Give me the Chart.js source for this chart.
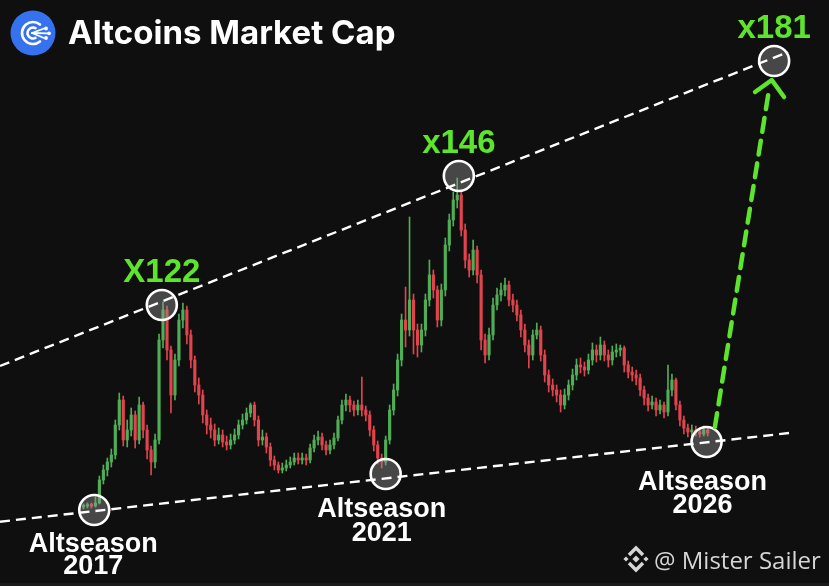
<!DOCTYPE html>
<html>
<head>
<meta charset="utf-8">
<script src="https://cdn.jsdelivr.net/npm/chart.js@4.4.1/dist/chart.umd.min.js"></script>
<style>
html, body { margin: 0; padding: 0; background: #0f0f0f; }
#wrap { width: 829px; height: 586px; position: relative; }
</style>
</head>
<body>
<div id="wrap"><canvas id="chart"></canvas></div>
<script>
// candles (index level, one candle per step)
const opens = [
  79, 80, 81, 80, 83,106,116,124,131,161,
 186,146,156,171,146,181,156,136,124,146,
 246,276,236,191,226,266,276,251,226,201,
 191,171,161,156,146,151,144,141,146,151,
 161,166,173,181,166,146,149,139,126,121,
 116,118,121,124,128,126,128,126,138,146,
 149,141,136,141,148,166,181,186,181,176,
 181,176,171,156,141,128,124,146,176,196,
 226,266,256,286,256,241,256,286,311,296,
 266,296,341,366,386,391,356,326,316,336,
 311,246,231,251,281,291,296,301,286,281,
 271,256,241,231,251,256,231,211,201,196,
 191,181,191,201,211,221,219,216,226,236,
 231,241,231,226,234,236,238,221,214,211,
 208,196,188,181,184,176,181,174,196,206,
 181,166,158,154,156,154,152,156
];
const closes = [
  80, 81, 80, 83,106,116,124,131,161,186,
 146,156,171,146,181,156,136,124,146,246,
 276,236,191,226,266,276,251,226,201,191,
 171,161,156,146,151,144,141,146,151,161,
 166,173,181,166,146,149,139,126,121,116,
 118,121,124,128,126,128,126,138,146,149,
 141,136,141,148,166,181,186,181,176,181,
 176,171,156,141,128,124,146,176,196,226,
 266,256,286,256,241,256,286,311,296,266,
 296,341,366,386,391,356,326,316,336,311,
 246,231,251,281,291,296,301,286,281,271,
 256,241,231,251,256,231,211,201,196,191,
 181,191,201,211,221,219,216,226,236,231,
 241,231,226,234,236,238,221,214,211,208,
 196,188,181,184,176,181,174,196,206,181,
 166,158,154,156,154,152,156,153
];
const highs = [
  82, 83, 83, 89,110,121,128,137,166,193,
 190,166,178,175,189,184,161,140,152,252,
 284,280,240,232,272,283,280,256,230,208,
 196,176,168,162,158,156,150,152,157,166,
 172,178,183,184,170,156,153,143,130,124,
 123,126,129,133,133,133,132,142,151,155,
 153,145,146,153,170,186,192,190,185,186,
 209,180,175,160,145,132,150,181,202,232,
 272,299,369,292,262,262,292,326,316,300,
 302,348,372,394,408,396,362,332,346,340,
 316,252,258,288,298,303,308,305,292,286,
 276,262,246,256,263,260,236,216,207,201,
 196,197,206,217,227,228,224,232,243,241,
 249,245,236,240,242,241,240,225,219,216,
 212,200,192,190,188,186,184,221,212,208,
 185,170,162,161,160,158,160,159
];
const lows = [
  77, 78, 78, 79, 82,102,110,119,127,156,
 140,139,150,138,142,148,127,111,118,142,
 238,226,173,186,220,258,242,218,194,182,
 163,152,148,140,142,139,136,137,142,147,
 157,162,169,160,140,141,133,120,116,113,
 113,115,118,121,122,122,121,123,134,141,
 136,131,132,137,145,162,175,174,170,171,
 170,165,150,135,122,118,121,142,171,190,
 220,239,250,232,229,234,250,280,288,259,
 260,290,335,360,378,350,318,309,311,303,
 236,223,226,246,276,285,290,280,274,265,
 249,234,218,226,247,225,204,194,190,184,
 174,177,186,196,206,213,210,212,221,224,
 226,225,219,221,229,230,214,208,205,201,
 190,181,175,177,170,172,168,170,190,176,
 160,152,149,150,150,149,150,150
];

// support line touches (altseason lows)
const seasonNames = ['Altseason', 'Altseason', 'Altseason'];
const seasonYears = ['2017', '2021', '2026'];
const seasonX = [2.7, 76, 156.7];
const seasonY = [76, 112, 144];

// resistance line touches (peaks)
const peakTags = ['X122', 'x146', 'x181'];
const peakX = [19.7, 94.4, 173.7];
const peakY = [281, 410, 525];

// trend lines
const resistX = [-21, 177.2];
const resistY = [220, 534];
const supportX = [-21, 178.2];
const supportY = [64.3, 153.3];

// projection arrow
const arrowX = [158.8, 172.4];
const arrowY = [159, 496];
const arrowHeadX = [168.9, 173.1, 176.2];
const arrowHeadY = [494, 506, 489];

const title = 'Altcoins Market Cap';
const credit = '@ Mister Sailer';

// styles
const upColor = '#4fae55';
const downColor = '#e2434c';
const lime = '#5de42c';
const seasonDx = [-1, -4, -4];
const seasonDy1 = [32, 33, 38];
const seasonDy2 = [54, 57, 61];
const peakDy = -35;

const idx = closes.map((c, i) => i);
const candleColors = closes.map((c, i) => c >= opens[i] ? upColor : downColor);
const pts = (xs, ys) => xs.map((x, i) => ({ x: x, y: ys[i] }));

const bgPlugin = {
  id: 'bg',
  beforeDraw(chart) {
    const ctx = chart.ctx;
    ctx.save();
    ctx.fillStyle = '#0f0f0f';
    ctx.fillRect(0, 0, chart.width, chart.height);
    ctx.fillStyle = '#1b1b1b';
    ctx.fillRect(0, chart.height - 3, chart.width, 3);
    ctx.restore();
  }
};

function capText(ctx, text, x, cy, size) {
  ctx.fillText(text, x, cy + size * 0.36);
}

const textPlugin = {
  id: 'texts',
  afterDraw(chart) {
    const ctx = chart.ctx;
    const sx = chart.scales.x, sy = chart.scales.y;
    ctx.save();

    // header icon
    ctx.fillStyle = '#3672ef';
    ctx.beginPath();
    ctx.arc(33, 33, 22.5, 0, Math.PI * 2);
    ctx.fill();
    ctx.strokeStyle = '#ffffff';
    ctx.lineCap = 'round';
    ctx.lineWidth = 2.6;
    ctx.beginPath();
    ctx.arc(33, 33, 11, Math.PI * 0.28, Math.PI * 1.72);
    ctx.stroke();
    ctx.beginPath();
    ctx.arc(33, 33, 5.5, Math.PI * 0.35, Math.PI * 1.65);
    ctx.stroke();
    ctx.lineWidth = 1.8;
    [[44, 28.5], [47, 33.3], [44, 38]].forEach(p => {
      ctx.beginPath();
      ctx.moveTo(32, 33);
      ctx.lineTo(p[0], p[1]);
      ctx.stroke();
    });
    ctx.fillStyle = '#ffffff';
    [[46, 28.5], [49, 33.3], [46, 38]].forEach(p => {
      ctx.beginPath();
      ctx.arc(p[0], p[1], 1.9, 0, Math.PI * 2);
      ctx.fill();
    });

    // title
    ctx.fillStyle = '#ffffff';
    ctx.textAlign = 'left';
    ctx.textBaseline = 'alphabetic';
    ctx.font = '700 33px Inter';
    ctx.fillText(title, 68, 44);

    // peak multipliers
    ctx.fillStyle = lime;
    ctx.textAlign = 'center';
    ctx.font = 'bold 33px "Liberation Sans"';
    peakTags.forEach((t, i) => {
      capText(ctx, t, sx.getPixelForValue(peakX[i]), sy.getPixelForValue(peakY[i]) + peakDy, 33);
    });

    // altseason labels
    ctx.fillStyle = '#ffffff';
    ctx.font = 'bold 27px "Liberation Sans"';
    seasonNames.forEach((t, i) => {
      const x = sx.getPixelForValue(seasonX[i]) + seasonDx[i];
      const y = sy.getPixelForValue(seasonY[i]);
      capText(ctx, t, x, y + seasonDy1[i], 27);
      capText(ctx, seasonYears[i], x, y + seasonDy2[i], 27);
    });

    // credit with logo
    ctx.fillStyle = '#d6d6d6';
    ctx.strokeStyle = '#d6d6d6';
    const lx = 636, ly = 559;
    const diamond = (cx, cy, r) => {
      ctx.beginPath();
      ctx.moveTo(cx, cy - r); ctx.lineTo(cx + r, cy);
      ctx.lineTo(cx, cy + r); ctx.lineTo(cx - r, cy);
      ctx.closePath(); ctx.fill();
    };
    diamond(lx, ly, 3.6);
    diamond(lx - 10, ly, 2.6);
    diamond(lx + 10, ly, 2.6);
    ctx.lineWidth = 3.4;
    ctx.lineCap = 'butt';
    ctx.lineJoin = 'miter';
    ctx.beginPath();
    ctx.moveTo(lx - 7, ly - 4); ctx.lineTo(lx, ly - 11); ctx.lineTo(lx + 7, ly - 4);
    ctx.stroke();
    ctx.beginPath();
    ctx.moveTo(lx - 7, ly + 4); ctx.lineTo(lx, ly + 11); ctx.lineTo(lx + 7, ly + 4);
    ctx.stroke();
    ctx.textAlign = 'left';
    ctx.font = '24px "Open Sans"';
    capText(ctx, credit, 654, 560, 24);

    ctx.restore();
  }
};

new Chart(document.getElementById('chart'), {
  type: 'bar',
  data: {
    datasets: [
      {
        label: 'wicks',
        data: idx.map(i => ({ x: i, y: [lows[i], highs[i]] })),
        backgroundColor: candleColors,
        barThickness: 1,
        grouped: false,
        order: 10
      },
      {
        label: 'bodies',
        data: idx.map(i => ({ x: i, y: [opens[i], closes[i]] })),
        backgroundColor: candleColors,
        barThickness: 2.5,
        minBarLength: 1.5,
        grouped: false,
        order: 9
      },
      {
        type: 'scatter',
        label: 'touches',
        data: pts(seasonX.concat(peakX), seasonY.concat(peakY)),
        pointRadius: 15,
        pointHoverRadius: 15,
        pointBorderWidth: 2.6,
        pointBorderColor: '#ffffff',
        pointBackgroundColor: 'rgba(150,150,150,0.42)',
        order: 5
      },
      {
        type: 'line',
        label: 'resistance',
        data: pts(resistX, resistY),
        borderColor: '#ffffff',
        borderWidth: 2.4,
        borderDash: [10, 6],
        pointRadius: 0,
        fill: false,
        order: 3
      },
      {
        type: 'line',
        label: 'support',
        data: pts(supportX, supportY),
        borderColor: '#ffffff',
        borderWidth: 2.4,
        borderDash: [10, 6],
        pointRadius: 0,
        fill: false,
        order: 3
      },
      {
        type: 'line',
        label: 'projection',
        data: pts(arrowX, arrowY),
        borderColor: lime,
        borderWidth: 4.5,
        borderDash: [14, 9],
        borderCapStyle: 'round',
        pointRadius: 0,
        fill: false,
        order: 2
      },
      {
        type: 'line',
        label: 'arrow head',
        data: pts(arrowHeadX, arrowHeadY),
        borderColor: lime,
        borderWidth: 4.5,
        borderCapStyle: 'round',
        borderJoinStyle: 'round',
        pointRadius: 0,
        fill: false,
        order: 1
      }
    ]
  },
  options: {
    responsive: true,
    maintainAspectRatio: false,
    animation: false,
    layout: { padding: 0, autoPadding: false },
    plugins: { legend: { display: false }, tooltip: { enabled: false } },
    scales: {
      x: { type: 'linear', min: -21, max: 187.5, offset: false, display: false },
      y: { type: 'linear', min: 0, max: 586, display: false }
    }
  },
  plugins: [bgPlugin, textPlugin]
});
</script>
</body>
</html>
